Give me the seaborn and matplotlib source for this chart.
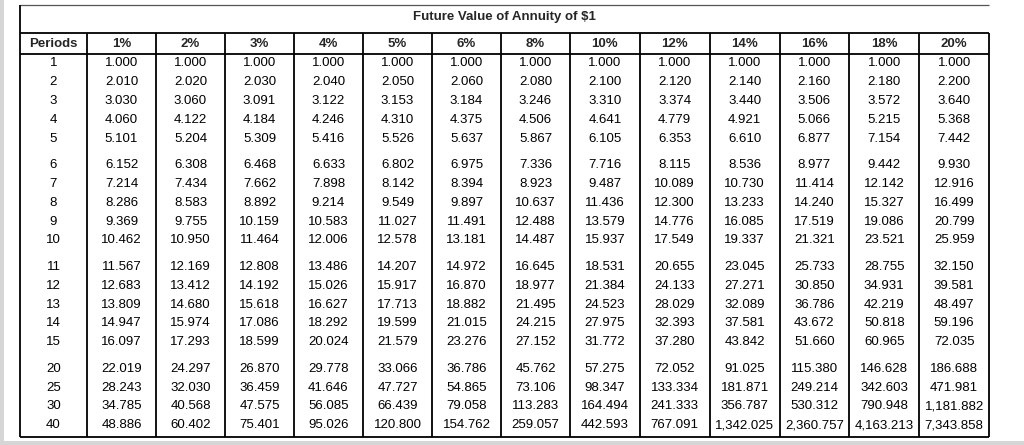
import matplotlib
matplotlib.use("Agg")
import matplotlib.pyplot as plt
from matplotlib.colors import ListedColormap
from matplotlib.patches import Rectangle
import numpy as np
import pandas as pd
import seaborn as sns

# valores de la tabla: futuro de una anualidad de $1
title = "Future Value of Annuity of $1"
periods = [1, 2, 3, 4, 5, 6, 7, 8, 9, 10, 11, 12, 13, 14, 15, 20, 25, 30, 40]
rates = ["1%", "2%", "3%", "4%", "5%", "6%", "8%", "10%", "12%", "14%", "16%", "18%", "20%"]

fv_1 = [1.000, 2.010, 3.030, 4.060, 5.101, 6.152, 7.214, 8.286, 9.369, 10.462,
        11.567, 12.683, 13.809, 14.947, 16.097, 22.019, 28.243, 34.785, 48.886]
fv_2 = [1.000, 2.020, 3.060, 4.122, 5.204, 6.308, 7.434, 8.583, 9.755, 10.950,
        12.169, 13.412, 14.680, 15.974, 17.293, 24.297, 32.030, 40.568, 60.402]
fv_3 = [1.000, 2.030, 3.091, 4.184, 5.309, 6.468, 7.662, 8.892, 10.159, 11.464,
        12.808, 14.192, 15.618, 17.086, 18.599, 26.870, 36.459, 47.575, 75.401]
fv_4 = [1.000, 2.040, 3.122, 4.246, 5.416, 6.633, 7.898, 9.214, 10.583, 12.006,
        13.486, 15.026, 16.627, 18.292, 20.024, 29.778, 41.646, 56.085, 95.026]
fv_5 = [1.000, 2.050, 3.153, 4.310, 5.526, 6.802, 8.142, 9.549, 11.027, 12.578,
        14.207, 15.917, 17.713, 19.599, 21.579, 33.066, 47.727, 66.439, 120.800]
fv_6 = [1.000, 2.060, 3.184, 4.375, 5.637, 6.975, 8.394, 9.897, 11.491, 13.181,
        14.972, 16.870, 18.882, 21.015, 23.276, 36.786, 54.865, 79.058, 154.762]
fv_8 = [1.000, 2.080, 3.246, 4.506, 5.867, 7.336, 8.923, 10.637, 12.488, 14.487,
        16.645, 18.977, 21.495, 24.215, 27.152, 45.762, 73.106, 113.283, 259.057]
fv_10 = [1.000, 2.100, 3.310, 4.641, 6.105, 7.716, 9.487, 11.436, 13.579, 15.937,
         18.531, 21.384, 24.523, 27.975, 31.772, 57.275, 98.347, 164.494, 442.593]
fv_12 = [1.000, 2.120, 3.374, 4.779, 6.353, 8.115, 10.089, 12.300, 14.776, 17.549,
         20.655, 24.133, 28.029, 32.393, 37.280, 72.052, 133.334, 241.333, 767.091]
fv_14 = [1.000, 2.140, 3.440, 4.921, 6.610, 8.536, 10.730, 13.233, 16.085, 19.337,
         23.045, 27.271, 32.089, 37.581, 43.842, 91.025, 181.871, 356.787, 1342.025]
fv_16 = [1.000, 2.160, 3.506, 5.066, 6.877, 8.977, 11.414, 14.240, 17.519, 21.321,
         25.733, 30.850, 36.786, 43.672, 51.660, 115.380, 249.214, 530.312, 2360.757]
fv_18 = [1.000, 2.180, 3.572, 5.215, 7.154, 9.442, 12.142, 15.327, 19.086, 23.521,
         28.755, 34.931, 42.219, 50.818, 60.965, 146.628, 342.603, 790.948, 4163.213]
fv_20 = [1.000, 2.200, 3.640, 5.368, 7.442, 9.930, 12.916, 16.499, 20.799, 25.959,
         32.150, 39.581, 48.497, 59.196, 72.035, 186.688, 471.981, 1181.882, 7343.858]

# bloques de filas separados por un espacio
groups = [(0, 5), (5, 10), (10, 15), (15, 19)]

df = pd.DataFrame({"1%": fv_1, "2%": fv_2, "3%": fv_3, "4%": fv_4, "5%": fv_5,
                   "6%": fv_6, "8%": fv_8, "10%": fv_10, "12%": fv_12, "14%": fv_14,
                   "16%": fv_16, "18%": fv_18, "20%": fv_20}, index=periods)
df = df[rates]

sns.set_theme(style="white")
plt.rcParams["font.family"] = ["Liberation Sans", "DejaVu Sans"]

W, H = 1024, 445
fig = plt.figure(figsize=(W / 100, H / 100), dpi=100)
fig.patch.set_facecolor("white")

# layout en pixeles
left, right = 20, 989
top, title_bot, head_bot, bottom = 5, 33, 54, 437
per_w = 67
# las columnas de tasas van en dos tramos de ancho algo distinto
col_blocks = [(0, 7, 87, 570), (7, 13, 570, 989)]
row_h = 18.8
gap = 7.8
fs = 9.5
white = ListedColormap(["white"])
kw = dict(fontsize=fs, color="black")

y = head_bot
for a, b in groups:
    n = b - a
    block = df.iloc[a:b]
    # columna de periodos
    axp = fig.add_axes([left / W, 1 - (y + n * row_h) / H, per_w / W, n * row_h / H])
    pvals = np.array(periods[a:b], dtype=float).reshape(-1, 1)
    plabs = np.array([[str(p)] for p in periods[a:b]])
    sns.heatmap(pvals, ax=axp, cmap=white, cbar=False, annot=plabs, fmt="",
                xticklabels=False, yticklabels=False, annot_kws=kw)
    axp.set_axis_off()
    # valores
    for c0, c1, x0, x1 in col_blocks:
        sub = block.iloc[:, c0:c1]
        axv = fig.add_axes([x0 / W, 1 - (y + n * row_h) / H, (x1 - x0) / W, n * row_h / H])
        labs = sub.map(lambda v: "{:,.3f}".format(v)).values
        sns.heatmap(sub.values, ax=axv, cmap=white, cbar=False, annot=labs, fmt="",
                    xticklabels=False, yticklabels=False, annot_kws=kw)
        axv.set_axis_off()
    y += n * row_h + gap

# capa de lineas y encabezados
ov = fig.add_axes([0, 0, 1, 1], facecolor="none")
ov.set_xlim(0, W)
ov.set_ylim(H, 0)
ov.set_axis_off()

ov.add_patch(Rectangle((0, 0), 4, H, color="#d6d6d6", lw=0))
ov.add_patch(Rectangle((0, 441), W, 4, color="#d6d6d6", lw=0))

lw = 1.3
ov.hlines(top, left, right, color="#555555", lw=0.9)
ov.hlines([title_bot, head_bot, bottom], left, right, color="black", lw=lw)
ov.vlines(left, top, bottom, color="black", lw=lw)

edges = [left + per_w]
for c0, c1, x0, x1 in col_blocks:
    w = (x1 - x0) / (c1 - c0)
    edges += [x0 + w * (k + 1) for k in range(c1 - c0)]
ov.vlines(edges, title_bot, bottom, color="black", lw=lw)

ov.text((left + right) / 2, 17, title, ha="center", va="center",
        fontsize=fs, fontweight="bold")
ov.text(left + per_w / 2, 44, "Periods", ha="center", va="center",
        fontsize=fs, fontweight="bold")
for k, r in enumerate(rates):
    ov.text((edges[k] + edges[k + 1]) / 2, 44, r, ha="center", va="center",
            fontsize=fs, fontweight="bold")

fig.savefig("out.png", dpi=100)
